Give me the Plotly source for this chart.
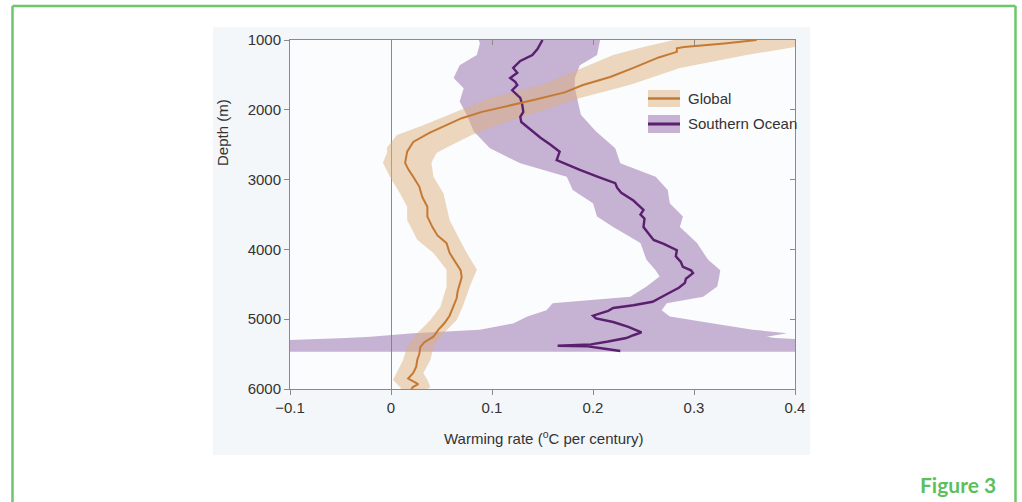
import plotly.graph_objects as go

# ---------------- data ----------------
x_ticks = [-0.1, 0, 0.1, 0.2, 0.3, 0.4]
x_ticktext = ["\u22120.1", "0", "0.1", "0.2", "0.3", "0.4"]
y_ticks = [1000, 2000, 3000, 4000, 5000, 6000]
y_ticktext = ["1000", "2000", "3000", "4000", "5000", "6000"]

# Global mean warming rate vs depth
glob_depth = [1000, 1050, 1100, 1120, 1170, 1250, 1400, 1530, 1645, 1750, 1860, 1975, 2030, 2120,
              2220, 2330, 2460, 2600, 2760, 2850, 2960, 3100, 3250, 3390, 3530, 3680, 3800, 3910,
              4050, 4200, 4300, 4400, 4500, 4600, 4700, 4800, 4870, 4950, 5055, 5150, 5250, 5330,
              5400, 5500, 5585, 5680, 5770, 5850, 5890, 5930, 5970, 6000]
glob_mean = [0.362, 0.33, 0.29, 0.283, 0.283, 0.265, 0.24, 0.217, 0.19, 0.172, 0.141, 0.108, 0.09, 0.07,
             0.055, 0.038, 0.022, 0.016, 0.014, 0.017, 0.022, 0.028, 0.031, 0.036, 0.036, 0.041, 0.046, 0.055,
             0.058, 0.065, 0.069, 0.07, 0.068, 0.066, 0.065, 0.062, 0.06, 0.058, 0.053, 0.047, 0.042, 0.033,
             0.029, 0.028, 0.026, 0.025, 0.022, 0.017, 0.022, 0.027, 0.022, 0.02]

# Global uncertainty band edges
glob_band_depth = [1000, 1100, 1215, 1400, 1640, 1830, 2030, 2220, 2360, 2540, 2620, 2760, 2960, 3200,
                   3390, 3580, 3860, 4050, 4290, 4530, 4820, 5010, 5200, 5390, 5585, 5770, 5870, 5970, 6000]
glob_lower = [0.28, 0.25, 0.22, 0.19, 0.15, 0.098, 0.065, 0.032, 0.006, -0.004, -0.004, -0.008, -0.001, 0.009,
              0.016, 0.016, 0.026, 0.042, 0.055, 0.055, 0.049, 0.039, 0.026, 0.016, 0.012, 0.006, 0.002, 0.009, 0.01]
glob_upper = [0.43, 0.40, 0.352, 0.286, 0.237, 0.187, 0.145, 0.105, 0.08, 0.055, 0.045, 0.040, 0.042, 0.052,
              0.055, 0.058, 0.068, 0.075, 0.085, 0.078, 0.071, 0.065, 0.052, 0.042, 0.039, 0.032, 0.036, 0.039, 0.036]

# Southern Ocean mean warming rate vs depth
so_depth = [1000, 1050, 1130, 1215, 1300, 1400, 1470, 1545, 1600, 1645, 1720, 1830, 1930, 2030, 2100,
            2175, 2280, 2400, 2500, 2600, 2720, 2790, 2860, 2960, 3050, 3120, 3190, 3300, 3435, 3500,
            3560, 3680, 3780, 3865, 3920, 4010, 4100, 4180, 4250, 4300, 4340, 4420, 4480, 4550, 4650,
            4750, 4800, 4840, 4880, 4950, 4990, 5040, 5110, 5190, 5230, 5270, 5320, 5360, 5380, 5390,
            5420, 5455]
so_mean = [0.150, 0.148, 0.145, 0.140, 0.128, 0.121, 0.125, 0.118, 0.123, 0.125, 0.120, 0.128, 0.130, 0.131, 0.128,
           0.129, 0.138, 0.148, 0.158, 0.167, 0.164, 0.175, 0.187, 0.205, 0.222, 0.224, 0.228, 0.240, 0.250, 0.247,
           0.251, 0.250, 0.255, 0.260, 0.270, 0.283, 0.282, 0.287, 0.289, 0.297, 0.299, 0.292, 0.291, 0.285, 0.272,
           0.259, 0.240, 0.220, 0.215, 0.200, 0.203, 0.220, 0.235, 0.248, 0.240, 0.233, 0.215, 0.198, 0.165, 0.195,
           0.210, 0.227]

# Southern Ocean uncertainty band edges
so_band_depth = [1000, 1050, 1215, 1360, 1545, 1690, 1880, 2070, 2310, 2550, 2767, 2960, 3150, 3340, 3530,
                 3680, 3910, 4150, 4300, 4390, 4530, 4680, 4770, 4870, 4960, 5060, 5150, 5200, 5250, 5270,
                 5320, 5465]
so_lower = [0.087, 0.088, 0.085, 0.068, 0.062, 0.072, 0.068, 0.075, 0.082, 0.098, 0.128, 0.174, 0.180, 0.200, 0.204,
            0.220, 0.247, 0.253, 0.262, 0.266, 0.253, 0.237, 0.160, 0.154, 0.135, 0.121, 0.088, 0.022, -0.02, -0.044,
            -0.15, -0.15]
so_upper = [0.207, 0.206, 0.204, 0.187, 0.182, 0.182, 0.185, 0.188, 0.203, 0.222, 0.227, 0.262, 0.274, 0.276, 0.289,
            0.286, 0.303, 0.314, 0.326, 0.325, 0.323, 0.309, 0.273, 0.268, 0.276, 0.319, 0.358, 0.392, 0.372, 0.38,
            0.45, 0.45]

series_names = ["Global", "Southern Ocean"]

# ---------------- style ----------------
GLOB_LINE = "#c47a34"
GLOB_FILL = "rgba(222,176,126,0.5)"
SO_LINE = "#5a1f6e"
SO_FILL = "rgba(146,104,170,0.5)"
AXIS = "#8a8a8a"
TXT = "#333333"
FONT = "Liberation Sans, Arial, sans-serif"
FS = 15

fig = go.Figure()

fig.add_trace(go.Scatter(x=so_lower + so_upper[::-1], y=so_band_depth + so_band_depth[::-1],
                         fill="toself", fillcolor=SO_FILL, line=dict(width=0), mode="lines",
                         showlegend=False, hoverinfo="skip"))
fig.add_trace(go.Scatter(x=glob_lower + glob_upper[::-1], y=glob_band_depth + glob_band_depth[::-1],
                         fill="toself", fillcolor=GLOB_FILL, line=dict(width=0), mode="lines",
                         showlegend=False, hoverinfo="skip"))
fig.add_trace(go.Scatter(x=so_mean, y=so_depth, mode="lines", line=dict(color=SO_LINE, width=2.4),
                         name=series_names[1], showlegend=False))
fig.add_trace(go.Scatter(x=glob_mean, y=glob_depth, mode="lines", line=dict(color=GLOB_LINE, width=2),
                         name=series_names[0], showlegend=False))
# invisible trace for mirrored axes (top/right inside ticks)
fig.add_trace(go.Scatter(x=[0], y=[1000], xaxis="x2", yaxis="y2", mode="markers",
                         marker=dict(opacity=0), showlegend=False, hoverinfo="skip"))

axis_common = dict(showgrid=False, showline=True, linecolor=AXIS, linewidth=1,
                   tickcolor=AXIS, ticklen=5, tickwidth=1,
                   tickfont=dict(family=FONT, size=FS, color=TXT))

fig.update_layout(
    width=1022, height=502,
    margin=dict(l=290, r=227, t=40, b=113, autoexpand=False),
    paper_bgcolor="white",
    plot_bgcolor="#fbfcfd",
    showlegend=False,
    xaxis=dict(range=[-0.1, 0.4], tickvals=x_ticks, ticktext=x_ticktext, ticks="outside",
               zeroline=True, zerolinecolor=AXIS, zerolinewidth=1, **axis_common),
    yaxis=dict(range=[6000, 1000], tickvals=y_ticks, ticktext=y_ticktext, ticks="outside",
               zeroline=False, **axis_common),
    xaxis2=dict(range=[-0.1, 0.4], tickvals=x_ticks, ticks="inside", overlaying="x", side="top",
                showticklabels=False, zeroline=False, **axis_common),
    yaxis2=dict(range=[6000, 1000], tickvals=y_ticks, ticks="inside", overlaying="y", side="right",
                showticklabels=False, zeroline=False, **axis_common),
)

def px2x(px):
    return (px - 290) / 505

def py2y(py):
    return (389 - py) / 349

shapes = []
# outer light panel, then lighter plot area on top of it
shapes.append(dict(type="rect", xref="paper", yref="paper", x0=px2x(213), x1=px2x(810),
                   y0=py2y(455), y1=py2y(27), fillcolor="#f4f7f9", line=dict(width=0), layer="below"))
shapes.append(dict(type="rect", xref="paper", yref="paper", x0=0, x1=1, y0=0, y1=1,
                   fillcolor="#fbfcfd", line=dict(width=0), layer="below"))
# green frame
GREEN = "#6cc66a"
for (xa, ya, xb, yb) in [(12.5, 520, 12.5, 6), (12.5, 6, 1015.5, 6), (1015.5, 6, 1015.5, 520)]:
    shapes.append(dict(type="line", xref="paper", yref="paper", x0=px2x(xa), y0=py2y(ya),
                       x1=px2x(xb), y1=py2y(yb), line=dict(color=GREEN, width=2.5)))
# legend swatches
for (top, bot, fillc, linec, lw) in [(90, 107, GLOB_FILL, GLOB_LINE, 2.5), (115, 133, SO_FILL, SO_LINE, 3)]:
    shapes.append(dict(type="rect", xref="paper", yref="paper", x0=px2x(648), x1=px2x(680),
                       y0=py2y(bot), y1=py2y(top), fillcolor=fillc, line=dict(width=0)))
    mid = (top + bot) / 2
    shapes.append(dict(type="line", xref="paper", yref="paper", x0=px2x(648), x1=px2x(680),
                       y0=py2y(mid), y1=py2y(mid), line=dict(color=linec, width=lw)))
fig.update_layout(shapes=shapes)

annotations = [
    dict(text="Depth (m)", x=px2x(222), y=py2y(133), xref="paper", yref="paper", textangle=-90,
         showarrow=False, xanchor="center", yanchor="middle", font=dict(family=FONT, size=FS, color=TXT)),
    dict(text="Warming rate (<sup style='font-size:9px'>o</sup>C per century)", x=px2x(544), y=py2y(437),
         xref="paper", yref="paper",
         showarrow=False, xanchor="center", yanchor="middle", font=dict(family=FONT, size=FS, color=TXT)),
    dict(text=series_names[0], x=px2x(686), y=py2y(98.5), xref="paper", yref="paper",
         showarrow=False, xanchor="left", yanchor="middle", font=dict(family=FONT, size=FS, color=TXT)),
    dict(text=series_names[1], x=px2x(686), y=py2y(124), xref="paper", yref="paper",
         showarrow=False, xanchor="left", yanchor="middle", font=dict(family=FONT, size=FS, color=TXT)),
    dict(text="<b>Figure 3</b>", x=px2x(998), y=py2y(484), xref="paper", yref="paper",
         showarrow=False, xanchor="right", yanchor="middle",
         font=dict(family="Lato, Open Sans, sans-serif", size=21, color="#5dbf5b")),
]
fig.update_layout(annotations=annotations)

fig.write_html("out.html", config={"displayModeBar": False},
               post_script="document.body.style.margin='0px';")
